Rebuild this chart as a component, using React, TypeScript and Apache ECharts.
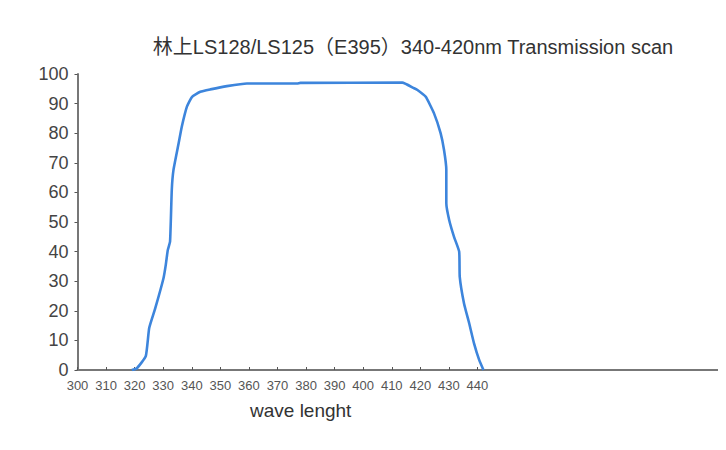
import React, { useEffect, useRef } from "react";
import * as echarts from "echarts";

const titleText = "林上LS128/LS125（E395）340-420nm Transmission scan";
const xAxisName = "wave lenght";
const xTickValues = [300, 310, 320, 330, 340, 350, 360, 370, 380, 390, 400, 410, 420, 430, 440];
const wavelengths = [
  319.0, 320.8, 323.9, 325.1, 327.2, 330.1, 330.9, 331.6, 332.4, 333.0, 333.6, 335.4, 336.5,
  338.3, 340.1, 343.0, 346.5, 352.3, 359.3, 376.9, 378.0, 413.7, 417.8, 419.0, 421.9, 424.8,
  427.1, 428.3, 429.1, 429.1, 430.1, 431.8, 433.6, 433.8, 435.3, 437.1, 438.8, 440.6, 442.1,
];
const transmission = [
  0, 0.6, 4.7, 14.2, 20.8, 31, 35.5, 40.5, 43.4, 60.8, 67.6, 76.6, 82.2,
  89, 92.3, 94, 94.8, 95.9, 96.8, 96.8, 97, 97.1, 95.2, 94.6, 92.3, 86.7,
  80, 74.3, 67.6, 56.3, 50.7, 45, 40, 31.5, 22.5, 15.8, 9, 3.4, 0,
];

export default function App() {
  const ref = useRef<HTMLDivElement>(null);
  useEffect(() => {
    if (!ref.current) return;
    const chart = echarts.init(ref.current, undefined, { renderer: "svg" });
    const data = wavelengths.map((w, i) => [w, transmission[i]]);
    chart.setOption({
      animation: false,
      textStyle: { fontFamily: "Liberation Sans, Arial, Noto Sans CJK SC, sans-serif" },
      title: {
        text: titleText,
        left: 400,
        top: 24,
        textAlign: "center",
        textStyle: { fontSize: 20, fontWeight: "normal", color: "#333" },
      },
      graphic: [
        {
          type: "text",
          left: 242,
          top: 393,
          style: { text: xAxisName, fill: "#333", font: "19px Liberation Sans, Arial, sans-serif" },
        },
      ],
      grid: { left: 69.5, top: 66, right: 0, bottom: 80, containLabel: false },
      xAxis: {
        type: "value",
        min: 300,
        max: 527,
        interval: 10,
        axisLine: { show: true, lineStyle: { color: "#777", width: 2 } },
        axisTick: {
          show: true,
          inside: true,
          length: 3,
          customValues: xTickValues,
          lineStyle: { color: "#555" },
        },
        axisLabel: {
          customValues: xTickValues,
          fontSize: 13,
          color: "#555",
          margin: 9,
          formatter: (v: number) => (v <= 440 ? String(v) : ""),
        },
        splitLine: { show: false },
      },
      yAxis: {
        type: "value",
        min: 0,
        max: 100,
        interval: 10,
        axisLine: { show: true, lineStyle: { color: "#777", width: 2 } },
        axisTick: { show: true, length: 3, lineStyle: { color: "#555" } },
        axisLabel: { fontSize: 18, color: "#444", margin: 9 },
        splitLine: { show: false },
      },
      series: [
        {
          type: "line",
          data,
          showSymbol: false,
          smooth: 0.15,
          lineStyle: { color: "#3d85dc", width: 2.6 },
        },
      ],
    });
    return () => chart.dispose();
  }, []);
  return <div ref={ref} style={{ width: 718, height: 442 }} />;
}
